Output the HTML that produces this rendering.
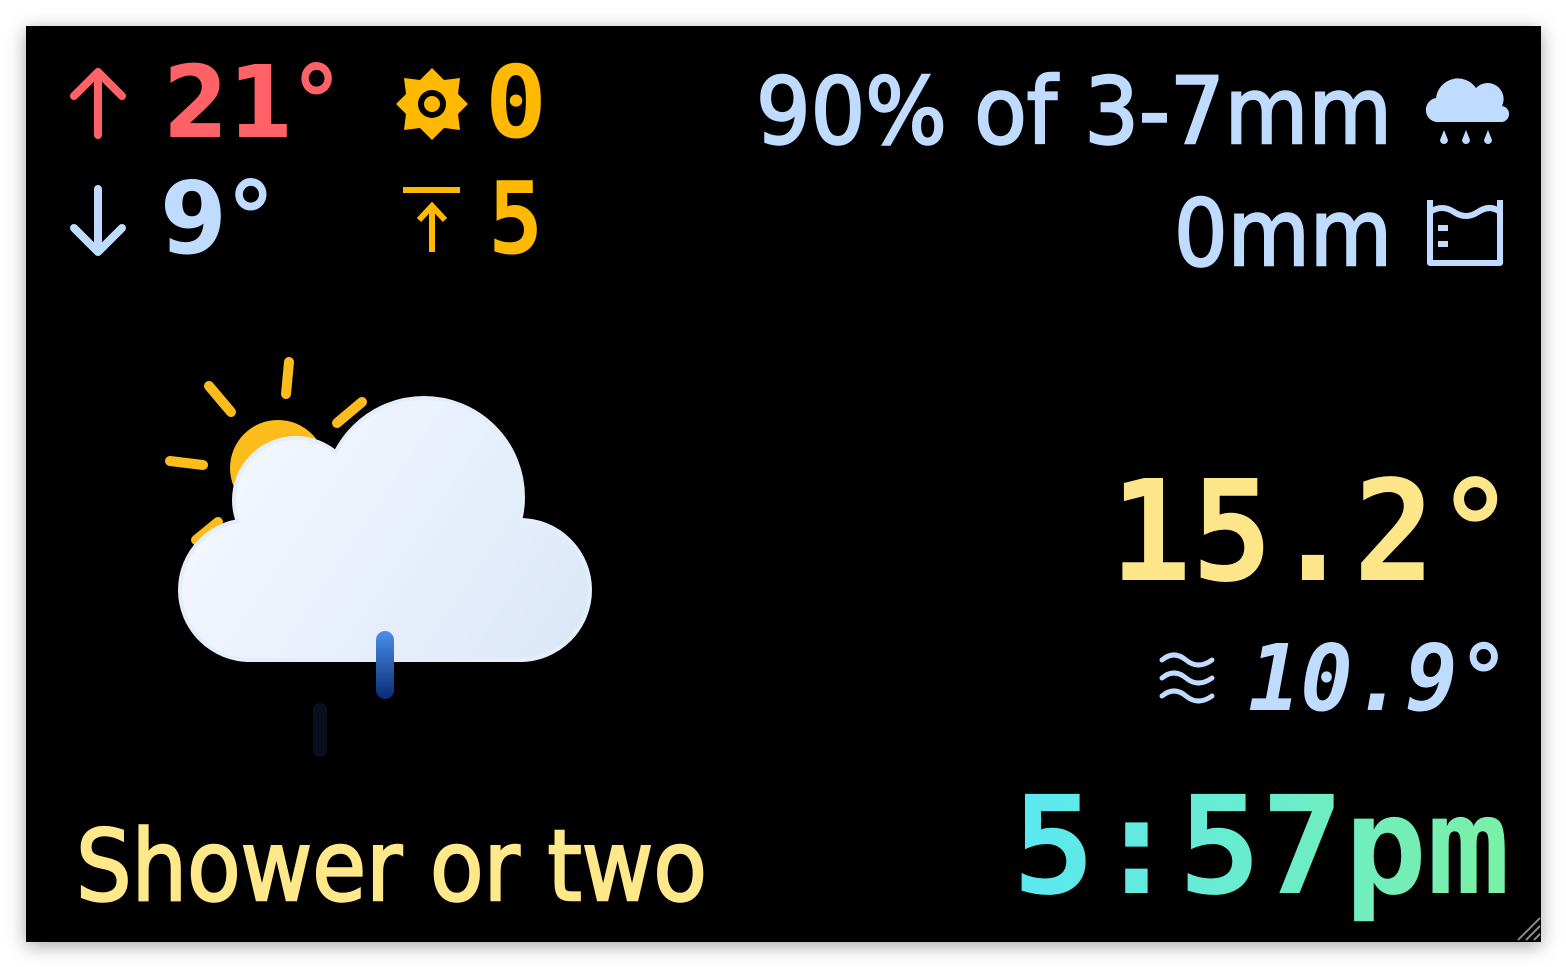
<!DOCTYPE html>
<html><head><meta charset="utf-8"><style>
html,body{margin:0;padding:0;background:#fff;width:1566px;height:967px;overflow:hidden}
#panel{position:absolute;left:26px;top:26px;width:1515px;height:916px;background:#000;box-shadow:0 4px 18px rgba(0,0,0,0.35)}
svg{position:absolute;left:0;top:0}
</style></head><body>
<div id="panel"></div>
<svg width="1566" height="967" viewBox="0 0 1566 967">
<defs>
<linearGradient id="tg" x1="0" x2="1" y1="0" y2="0"><stop offset="0" stop-color="#5ae8f2"/><stop offset="1" stop-color="#7af0a6"/></linearGradient>
<linearGradient id="cg" gradientUnits="userSpaceOnUse" x1="200" x2="560" y1="420" y2="660"><stop offset="0" stop-color="#f6f9ff"/><stop offset="1" stop-color="#dce8f8"/></linearGradient>
<linearGradient id="dg" gradientUnits="userSpaceOnUse" x1="0" x2="0" y1="632" y2="697"><stop offset="0" stop-color="#4a8ee8"/><stop offset="1" stop-color="#0b2e78"/></linearGradient>
</defs>
<g font-family="'DejaVu Sans','Liberation Sans',sans-serif" font-weight="bold">
<g stroke="#ff6266" stroke-width="8" stroke-linecap="round" stroke-linejoin="round" fill="none"><path d="M98 135V72M74 96L98 72L122 96"/></g>
<text x="163" y="137" font-size="100" fill="#ff6266" textLength="177" lengthAdjust="spacingAndGlyphs">21°</text>
<g fill="#ffb900"><polygon points="432,68 444,80 460,78 458,94 468,104 458,114 460,130 444,128 432,140 420,128 404,130 406,114 396,104 406,94 404,78 420,80"/><circle cx="432" cy="104" r="14" fill="#000"/><circle cx="432" cy="104" r="8"/></g>
<text x="485" y="137" font-family="'DejaVu Sans Mono',monospace" font-size="100" fill="#ffb900" textLength="62" lengthAdjust="spacingAndGlyphs">0</text>
<g stroke="#bfdbff" stroke-width="8" stroke-linecap="round" stroke-linejoin="round" fill="none"><path d="M98 189V252M74 228L98 252L122 228"/></g>
<text x="160" y="253" font-size="100" fill="#bfdbff" textLength="115" lengthAdjust="spacingAndGlyphs">9°</text>
<g stroke="#ffb900" stroke-width="6" fill="none"><path d="M403 190H460M432 252V206M419 220L432 206L445 220"/></g>
<text x="488" y="253" font-family="'DejaVu Sans Mono',monospace" font-size="100" fill="#ffb900" textLength="55" lengthAdjust="spacingAndGlyphs">5</text>
</g>
<g font-family="'DejaVu Sans','Liberation Sans',sans-serif" font-weight="normal" stroke-width="2.5">
<text x="756" y="143" font-size="92" fill="#bfdbff" stroke="#bfdbff" textLength="636" lengthAdjust="spacingAndGlyphs">90% of 3-7mm</text>
<g fill="#bfdbff" stroke="none"><path d="M1440 122a12 12 0 0 1 -4 -24a22 22 0 0 1 40 -10a16 16 0 0 1 26 18a8 8 0 0 1 -2 16z"/><path d="M1444 130l-4 10a4 4 0 0 0 8 0z M1466 130l-4 10a4 4 0 0 0 8 0z M1488 130l-4 10a4 4 0 0 0 8 0z"/></g>
<text x="1174" y="265" font-size="92" fill="#bfdbff" stroke="#bfdbff" textLength="218" lengthAdjust="spacingAndGlyphs">0mm</text>
<g stroke="#bfdbff" stroke-width="6" fill="none" stroke-linejoin="round"><path d="M1430 200V263H1500V200M1430 212q12 -8 24 0q12 8 24 0q12 -8 22 0M1438 228H1448M1438 244H1448"/></g>
</g>
<g>
<g stroke="#fbbc1c" stroke-width="10" stroke-linecap="round"><path d="M289 362L286 394M209 386L231 412M170 461L203 465M337 423L362 402M196 540L218 522"/></g>
<circle cx="278" cy="468" r="48" fill="#fbbc1c"/>
<g stroke="#e4eefb" stroke-width="8" fill="#e4eefb">
<circle cx="250" cy="590" r="68"/><circle cx="296" cy="500" r="60"/><circle cx="424" cy="497" r="97"/><circle cx="520" cy="590" r="68"/><rect x="250" y="522" width="270" height="136"/>
</g>
<g fill="url(#cg)">
<circle cx="250" cy="590" r="68"/><circle cx="296" cy="500" r="60"/><circle cx="424" cy="497" r="97"/><circle cx="520" cy="590" r="68"/><rect x="250" y="522" width="270" height="136"/><rect x="290" y="470" width="200" height="80"/>
</g>
<line x1="385" y1="640" x2="385" y2="690" stroke="url(#dg)" stroke-width="18" stroke-linecap="round"/>
<line x1="320" y1="710" x2="320" y2="750" stroke="#0a0f1c" stroke-width="14" stroke-linecap="round"/>
</g>
<g font-family="'DejaVu Sans Mono','Liberation Mono',monospace" font-weight="bold">
<text x="1110" y="580" font-size="140" fill="#fde58a" textLength="406" lengthAdjust="spacingAndGlyphs">15.2°</text>
<g stroke="#bfdbff" stroke-width="5" fill="none" stroke-linecap="round"><path d="M1162 660q12 -10 24 0t26 0M1162 678q12 -10 24 0t26 0M1162 696q12 -10 24 0t26 0"/></g>
<text x="1248" y="710" font-size="92" font-style="italic" fill="#bfdbff" textLength="262" lengthAdjust="spacingAndGlyphs">10.9°</text>
<text x="1012" y="893" font-size="136" fill="url(#tg)" textLength="498" lengthAdjust="spacingAndGlyphs">5:57pm</text>
</g>
<text x="76" y="900" font-family="'DejaVu Sans','Liberation Sans',sans-serif" font-size="98" fill="#ffe88a" stroke="#ffe88a" stroke-width="2.5" textLength="631" lengthAdjust="spacingAndGlyphs">Shower or two</text>
<g stroke="#888" stroke-width="2"><path d="M1518 940L1540 918M1526 940L1540 926M1534 940L1540 934"/></g>
</svg>
</body></html>
